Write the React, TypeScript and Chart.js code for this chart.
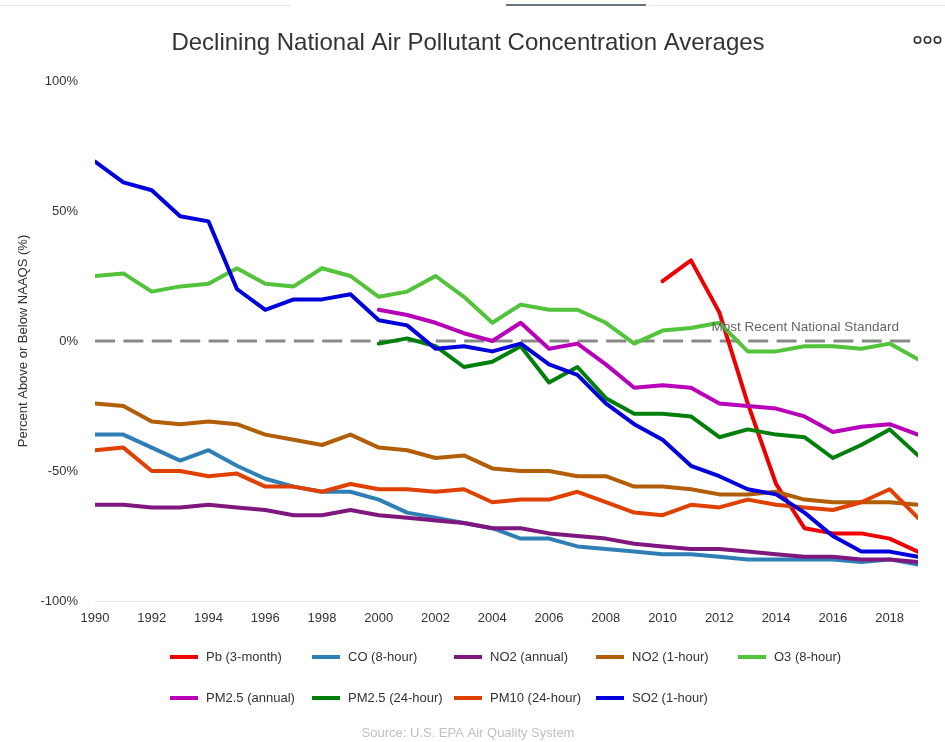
import React, { useEffect, useRef } from 'react';
import { Chart, registerables } from 'chart.js';

Chart.register(...registerables);

const FONT = "'Liberation Sans', Arial, Helvetica, sans-serif";

const chartTitle = 'Declining National Air Pollutant Concentration Averages';
const yAxisTitle = 'Percent Above or Below NAAQS (%)';
const sourceText = 'Source: U.S. EPA Air Quality System';
const standardLabel = 'Most Recent National Standard';

const years = [
  1990, 1991, 1992, 1993, 1994, 1995, 1996, 1997, 1998, 1999,
  2000, 2001, 2002, 2003, 2004, 2005, 2006, 2007, 2008, 2009,
  2010, 2011, 2012, 2013, 2014, 2015, 2016, 2017, 2018, 2019,
];
const xTicks = [1990, 1992, 1994, 1996, 1998, 2000, 2002, 2004, 2006, 2008, 2010, 2012, 2014, 2016, 2018];
const yTicks = [-100, -50, 0, 50, 100];

const N = null;
const pb3Month = [N, N, N, N, N, N, N, N, N, N, N, N, N, N, N, N, N, N, N, N, 23, 31, 11, -24, -55, -72, -74, -74, -76, -81];
const co8Hour = [-36, -36, -41, -46, -42, -48, -53, -56, -58, -58, -61, -66, -68, -70, -72, -76, -76, -79, -80, -81, -82, -82, -83, -84, -84, -84, -84, -85, -84, -86];
const no2Annual = [-63, -63, -64, -64, -63, -64, -65, -67, -67, -65, -67, -68, -69, -70, -72, -72, -74, -75, -76, -78, -79, -80, -80, -81, -82, -83, -83, -84, -84, -85];
const no21Hour = [-24, -25, -31, -32, -31, -32, -36, -38, -40, -36, -41, -42, -45, -44, -49, -50, -50, -52, -52, -56, -56, -57, -59, -59, -58, -61, -62, -62, -62, -63];
const o38Hour = [25, 26, 19, 21, 22, 28, 22, 21, 28, 25, 17, 19, 25, 17, 7, 14, 12, 12, 7, -1, 4, 5, 7, -4, -4, -2, -2, -3, -1, -7];
const pm25Annual = [N, N, N, N, N, N, N, N, N, N, 12, 10, 7, 3, 0, 7, -3, -1, -9, -18, -17, -18, -24, -25, -26, -29, -35, -33, -32, -36];
const pm2524Hour = [N, N, N, N, N, N, N, N, N, N, -1, 1, -2, -10, -8, -2, -16, -10, -22, -28, -28, -29, -37, -34, -36, -37, -45, -40, -34, -44];
const pm1024Hour = [-42, -41, -50, -50, -52, -51, -56, -56, -58, -55, -57, -57, -58, -57, -62, -61, -61, -58, -62, -66, -67, -63, -64, -61, -63, -64, -65, -62, -57, -68];
const so21Hour = [69, 61, 58, 48, 46, 20, 12, 16, 16, 18, 8, 6, -3, -2, -4, -1, -9, -13, -24, -32, -38, -48, -52, -57, -59, -66, -75, -81, -81, -83];
const nationalStandard = [0, 0, 0, 0, 0, 0, 0, 0, 0, 0, 0, 0, 0, 0, 0, 0, 0, 0, 0, 0, 0, 0, 0, 0, 0, 0, 0, 0, 0, 0];

const seriesNames = [
  'Pb (3-month)', 'CO (8-hour)', 'NO2 (annual)', 'NO2 (1-hour)', 'O3 (8-hour)',
  'PM2.5 (annual)', 'PM2.5 (24-hour)', 'PM10 (24-hour)', 'SO2 (1-hour)',
];
const seriesValues = [pb3Month, co8Hour, no2Annual, no21Hour, o38Hour, pm25Annual, pm2524Hour, pm1024Hour, so21Hour];
const seriesColors = ['#ee0000', '#2f7fb7', '#80177e', '#b15e07', '#52c43a', '#b800b8', '#00800a', '#e04000', '#0000dd'];

const toPoints = (vals: (number | null)[]) => years.map((yr, i) => ({ x: yr, y: vals[i] }));

const decorPlugin = {
  id: 'decor',
  beforeDraw(chart: any) {
    const ctx = chart.ctx;
    ctx.save();
    ctx.strokeStyle = '#e6e6e6';
    ctx.lineWidth = 1;
    ctx.beginPath();
    ctx.moveTo(0, 5.5); ctx.lineTo(290, 5.5);
    ctx.moveTo(650, 5.5); ctx.lineTo(945, 5.5);
    ctx.stroke();
    ctx.strokeStyle = '#67757f';
    ctx.lineWidth = 2;
    ctx.beginPath();
    ctx.moveTo(506, 5); ctx.lineTo(646, 5);
    ctx.stroke();
    ctx.restore();
  },
  afterDatasetsDraw(chart: any) {
    const ctx = chart.ctx;
    const yScale = chart.scales.y;
    ctx.save();
    ctx.font = `13.5px ${FONT}`;
    ctx.fillStyle = '#666666';
    ctx.textAlign = 'right';
    ctx.textBaseline = 'middle';
    ctx.fillText(standardLabel, chart.chartArea.right - 19, yScale.getPixelForValue(0) - 14);
    ctx.restore();
  },
  afterDraw(chart: any) {
    const ctx = chart.ctx;
    ctx.save();
    // title
    ctx.font = `24px ${FONT}`;
    ctx.fillStyle = '#333333';
    ctx.textAlign = 'center';
    ctx.textBaseline = 'middle';
    ctx.fillText(chartTitle, 468, 43);
    // menu icon
    ctx.strokeStyle = '#333333';
    ctx.lineWidth = 1.6;
    [917.5, 927.5, 937.5].forEach((cx) => {
      ctx.beginPath();
      ctx.arc(cx, 40, 3.2, 0, Math.PI * 2);
      ctx.stroke();
    });
    // legend
    ctx.font = `13px ${FONT}`;
    ctx.textAlign = 'left';
    seriesNames.forEach((name, i) => {
      const col = i % 5;
      const row = Math.floor(i / 5);
      const x = 170 + col * 142;
      const y = row === 0 ? 657 : 698;
      ctx.strokeStyle = seriesColors[i];
      ctx.lineWidth = 4;
      ctx.lineCap = 'butt';
      ctx.beginPath();
      ctx.moveTo(x, y);
      ctx.lineTo(x + 28, y);
      ctx.stroke();
      ctx.fillStyle = '#333333';
      ctx.fillText(name, x + 36, y);
    });
    // source
    ctx.font = `13px ${FONT}`;
    ctx.fillStyle = '#c0c0c0';
    ctx.textAlign = 'center';
    ctx.fillText(sourceText, 468, 733);
    ctx.restore();
  },
};

export default function App() {
  const canvasRef = useRef<HTMLCanvasElement | null>(null);

  useEffect(() => {
    const canvas = canvasRef.current;
    if (!canvas) return;
    const n = seriesValues.length;
    const datasets: any[] = seriesValues.map((vals, i) => ({
      label: seriesNames[i],
      data: toPoints(vals),
      borderColor: seriesColors[i],
      backgroundColor: seriesColors[i],
      borderWidth: 4,
      pointRadius: 0,
      pointHoverRadius: 0,
      tension: 0,
      fill: false,
      borderCapStyle: 'round',
      borderJoinStyle: 'round',
      spanGaps: false,
      order: n - i,
    }));
    datasets.push({
      label: standardLabel,
      data: toPoints(nationalStandard),
      borderColor: '#888888',
      borderWidth: 3,
      borderDash: [20, 8.4],
      borderCapStyle: 'butt',
      pointRadius: 0,
      pointHoverRadius: 0,
      fill: false,
      order: n + 1,
    });

    const chart = new Chart(canvas, {
      type: 'line',
      data: { datasets },
      options: {
        responsive: false,
        animation: false,
        layout: { padding: { top: 81, right: 27, bottom: 111, left: 0 } },
        plugins: {
          legend: { display: false },
          tooltip: { enabled: false },
          title: { display: false },
        },
        events: [],
        scales: {
          x: {
            type: 'linear',
            min: 1990,
            max: 2019,
            afterBuildTicks: (scale: any) => {
              scale.ticks = xTicks.map((v) => ({ value: v }));
            },
            afterFit: (scale: any) => {
              scale.height = 30;
            },
            grid: { display: false, drawTicks: false },
            border: { display: true, color: '#e6e6e6', width: 1 },
            ticks: {
              autoSkip: false,
              maxRotation: 0,
              padding: 10,
              color: '#333333',
              font: { family: FONT, size: 13 },
              callback: (v: any) => String(v),
            },
          },
          y: {
            type: 'linear',
            min: -100,
            max: 100,
            afterBuildTicks: (scale: any) => {
              scale.ticks = yTicks.map((v) => ({ value: v }));
            },
            afterFit: (scale: any) => {
              scale.width = 95;
            },
            grid: { display: false, drawTicks: false },
            border: { display: false },
            ticks: {
              padding: 17,
              color: '#333333',
              font: { family: FONT, size: 13 },
              callback: (v: any) => `${v}%`,
            },
            title: {
              display: true,
              text: yAxisTitle,
              color: '#333333',
              font: { family: FONT, size: 13 },
              padding: { top: 16, bottom: 0 },
            },
          },
        },
      },
      plugins: [decorPlugin],
    } as any);

    return () => {
      chart.destroy();
    };
  }, []);

  return (
    <div style={{ position: 'fixed', left: 0, top: 0, width: 945, height: 742, background: '#ffffff' }}>
      <canvas ref={canvasRef} width={945} height={742} style={{ width: 945, height: 742, display: 'block' }} />
    </div>
  );
}
